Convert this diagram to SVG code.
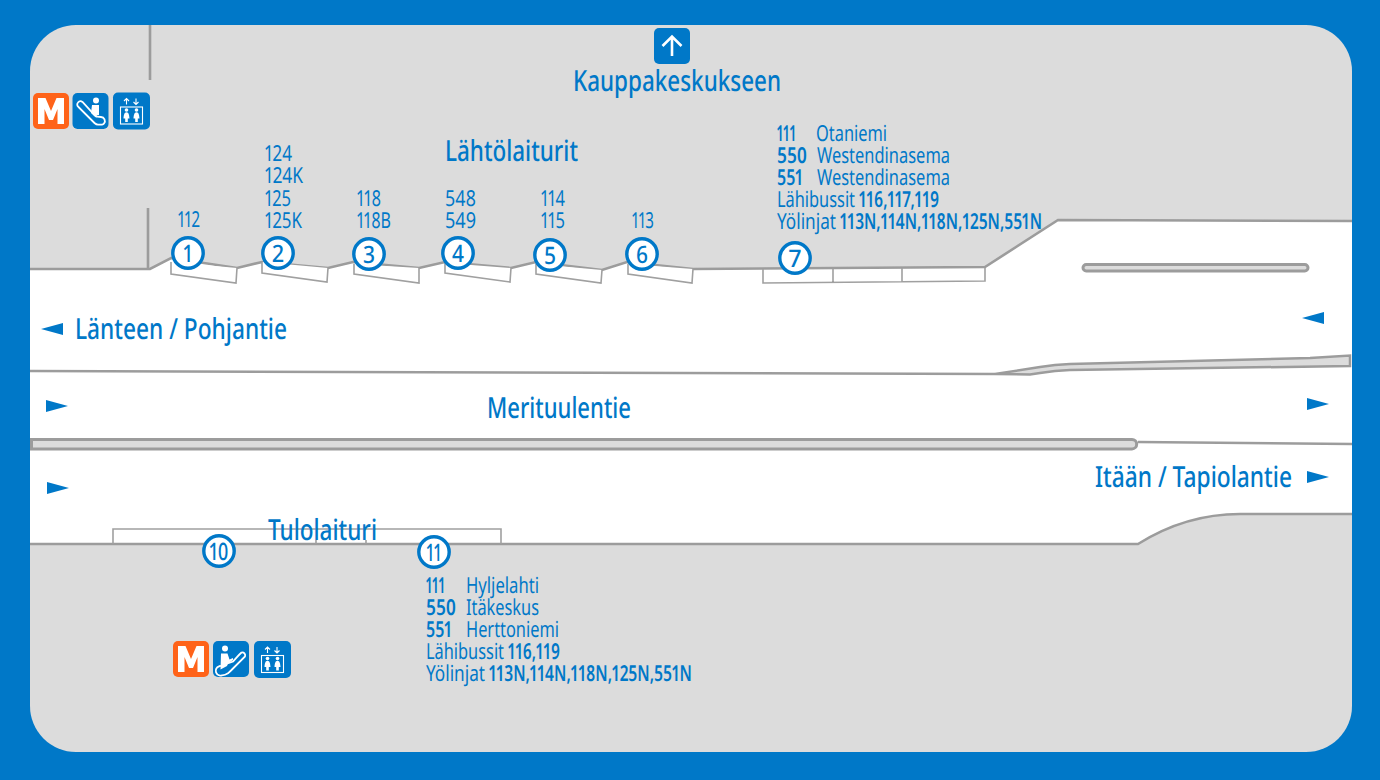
<svg xmlns="http://www.w3.org/2000/svg" width="1380" height="780" viewBox="0 0 1380 780">
  <style>
    text { font-family: "Noto Sans", "Open Sans", sans-serif; fill: #0078c8; text-rendering: geometricPrecision; font-variant-numeric: proportional-nums; }
    .sm { font-size: 22px; font-weight: 400; }
    .smb { font-size: 22px; font-weight: 600; }
    .lg { font-size: 29px; font-weight: 500; }
    .num { font-size: 24px; font-weight: 500; text-anchor: middle; }
    .edge { fill: none; stroke: #9c9c9c; stroke-width: 2.600; }
    .thin { fill: #fff; stroke: #a0a0a0; stroke-width: 1.600; }
    .open { fill: none; stroke: #a0a0a0; stroke-width: 1.600; }
    .isl { fill: #dcdcdc; stroke: #9c9c9c; stroke-width: 3; }
    .wedge { fill: #dcdcdc; stroke: #9c9c9c; stroke-width: 2.500; }
    .stop { fill: #fff; stroke: #0078c8; stroke-width: 3.400; }
    .arr { fill: #0078c8; }
    .ic { fill: #0078c8; }
    .wl { fill: none; stroke: #fff; stroke-width: 1.800; }
    .wt { fill: none; stroke: #fff; stroke-width: 1.100; }
    .wf { fill: #fff; }
  </style>
  <defs>
    <g id="metro">
      <rect width="36" height="36" rx="5" fill="#ff6319"/>
      <path class="wf" d="M5 31V5h7.500l5.500 13 5.500-13H31v26h-6.500V16l-4.500 11h-4l-4.500-11v15z"/>
    </g>
    <g id="lift">
      <rect width="37" height="37" rx="5" class="ic"/>
      <rect x="7.500" y="14.500" width="22" height="17" class="wt"/>
      <circle class="wf" cx="13.500" cy="17.500" r="1.800"/><path class="wf" d="M13.500 19.800c2.200 0 2.800 3 3 6.200h-1.700v3.500h-2.600V26h-1.700c.2-3.200.8-6.200 3-6.200z"/>
      <circle class="wf" cx="23.500" cy="17.500" r="1.800"/><path class="wf" d="M23.500 19.800c2.200 0 2.800 3 3 6.200h-1.700v3.500h-2.600V26h-1.700c.2-3.200.8-6.200 3-6.200z"/>
      <path class="wt" d="M13.500 12V6M11 8.500l2.500-2.500 2.500 2.500M23 6v6M20.500 9.500l2.500 2.500 2.500-2.500"/>
    </g>
  </defs>

  <rect width="1380" height="780" fill="#0078c8"/>
  <rect x="30" y="25" width="1322" height="727" rx="46" fill="#dcdcdc"/>

  <!-- carriageway surface -->
  <path fill="#fff" d="M30 269H150L171 258L237 268L262 262L328 268L353 262L419 268L445 262L511 268L536 262L602 270L627 262L693 269L985 267L1058 220L1352 221V514H1240C1205 514 1170 524 1138 544H30Z"/>

  <g id="connectors">
    <path class="edge" d="M30 269H150L171 258L237 268L262 262L328 268L353 262L419 268L445 262L511 268L536 262L602 270L627 262L693 269L985 267L1058 220L1352 221"/>
    <path class="edge" d="M30 544H1138C1170 524 1205 514 1240 514H1352"/>
    <path class="edge" d="M150 25V80M148 208V269"/>
    <path class="edge" d="M30 371L995 374"/>
    <path class="edge" d="M1138 442L1352 444"/>
    <path class="wedge" d="M995 374L1040 367Q1055 364.500 1070 364L1310 358L1350 355.500V366L1070 370Q1055 370.500 1040 373L1030 374.500Z"/>
    <rect class="isl" x="1083" y="264.500" width="225" height="6.500" rx="3.200"/>
    <path class="isl" d="M31.500 439.500H1132a4.700 4.700 0 0 1 0 9.400H31.500Z"/>
    <!-- boarding platforms -->
    <path class="thin" d="M171 262V274L236 283L237 268"/>
    <path class="thin" d="M262 262V273L327 282L328 268"/>
    <path class="thin" d="M354 264V274L419 283L419 268"/>
    <path class="thin" d="M445 263V273L510 282L511 268"/>
    <path class="thin" d="M536 264V274L601 283L602 270"/>
    <path class="thin" d="M628 264V274L692 283L693 269"/>
    <path class="open" d="M763 269V283L985 281V268M833 269V282M902 268V282"/>
    <path class="open" d="M113 544V529L501 529V544M316 540V544M366 540V544"/>
    <!-- traffic direction arrows -->
    <path class="arr" d="M41 329L63 323V335Z"/>
    <path class="arr" d="M1302 318L1324 312V324Z"/>
    <path class="arr" d="M46 400L68 406L46 412Z"/>
    <path class="arr" d="M1307 398L1329 404L1307 410Z"/>
    <path class="arr" d="M47 482L69 488L47 494Z"/>
    <path class="arr" d="M1307 471L1329 477L1307 483Z"/>
  </g>

  <g id="stop-1"><circle class="stop" cx="188" cy="253" r="15.200"/><text class="num" x="188" y="262" textLength="9" lengthAdjust="spacingAndGlyphs">1</text></g>
  <g id="stop-2"><circle class="stop" cx="278" cy="253" r="15.200"/><text class="num" x="278" y="262" textLength="12" lengthAdjust="spacingAndGlyphs">2</text></g>
  <g id="stop-3"><circle class="stop" cx="369" cy="254" r="15.200"/><text class="num" x="369" y="263" textLength="12" lengthAdjust="spacingAndGlyphs">3</text></g>
  <g id="stop-4"><circle class="stop" cx="458" cy="253" r="15.200"/><text class="num" x="458" y="262" textLength="12" lengthAdjust="spacingAndGlyphs">4</text></g>
  <g id="stop-5"><circle class="stop" cx="550" cy="255" r="15.200"/><text class="num" x="550" y="264" textLength="12" lengthAdjust="spacingAndGlyphs">5</text></g>
  <g id="stop-6"><circle class="stop" cx="642" cy="254" r="15.200"/><text class="num" x="642" y="263" textLength="12" lengthAdjust="spacingAndGlyphs">6</text></g>
  <g id="stop-7"><circle class="stop" cx="795" cy="258" r="15.200"/><text class="num" x="795" y="267" textLength="12" lengthAdjust="spacingAndGlyphs">7</text></g>
  <g id="stop-10"><circle class="stop" cx="219" cy="551" r="15.200"/><text class="num" x="219" y="560" textLength="19" lengthAdjust="spacingAndGlyphs">10</text></g>
  <g id="stop-11"><circle class="stop" cx="434" cy="552" r="15.200"/><text class="num" x="434" y="561" textLength="15" lengthAdjust="spacingAndGlyphs">11</text></g>

  <g id="kauppakeskus">
    <rect x="654" y="28" width="36" height="36" rx="5" class="ic"/>
    <path d="M672 56V37M662.500 46L672 36.500L681.500 46" fill="none" stroke="#fff" stroke-width="2.600"/>
    <text class="lg" x="573" y="90.500" textLength="208" lengthAdjust="spacingAndGlyphs">Kauppakeskukseen</text>
  </g>

  <g id="metro-west">
    <use href="#metro" x="33" y="93"/>
    <rect x="72.500" y="93" width="36" height="36" rx="5" class="ic"/>
    <circle class="wf" cx="96" cy="100.500" r="3"/>
    <path class="wf" d="M92 105h7v10h-2.500v3L91 113z"/>
    <path class="wl" d="M78 102.500a3.300 3.300 0 0 1 4.500-.5L95 115.500c2 1.500 4 1.500 6 1.500a4 4 0 0 1 3 6.500 3 3 0 0 1-2 1.200h-4c-1.500 0-2.500-.8-3.500-1.700L78.500 107a3 3 0 0 1-.5-4.500z"/>
    <use href="#lift" x="113" y="92.500"/>
  </g>

  <g id="metro-east">
    <use href="#metro" x="173" y="641"/>
    <rect x="213" y="641" width="36" height="36" rx="5" class="ic"/>
    <circle class="wf" cx="225" cy="648.500" r="3"/>
    <path class="wf" d="M221 653.500h6.500l2 6 3.500-1.500v2l-5 3.500-1 2.500-6.500 3.500z"/>
    <path class="wl" d="M219 666.500l14-5c3-3 5-6 8.500-9a3 3 0 0 1 3.500 4l-14 14-3 2.800c-2 1.400-4 2-6 2a4.500 4.500 0 0 1-3-9z"/>
    <use href="#lift" x="254" y="641"/>
  </g>

  <g id="departures">
    <text class="lg" x="445" y="161" textLength="133" lengthAdjust="spacingAndGlyphs">Lähtölaiturit</text>
    <text class="sm" x="178" y="227" textLength="22" lengthAdjust="spacingAndGlyphs">112</text>
    <text class="sm" x="265" y="161" textLength="27" lengthAdjust="spacingAndGlyphs">124</text>
    <text class="sm" x="265" y="183" textLength="38" lengthAdjust="spacingAndGlyphs">124K</text>
    <text class="sm" x="265" y="206" textLength="26" lengthAdjust="spacingAndGlyphs">125</text>
    <text class="sm" x="265" y="228" textLength="37" lengthAdjust="spacingAndGlyphs">125K</text>
    <text class="sm" x="357" y="206" textLength="24" lengthAdjust="spacingAndGlyphs">118</text>
    <text class="sm" x="357" y="228" textLength="34" lengthAdjust="spacingAndGlyphs">118B</text>
    <text class="sm" x="445" y="206" textLength="31" lengthAdjust="spacingAndGlyphs">548</text>
    <text class="sm" x="445" y="228" textLength="31" lengthAdjust="spacingAndGlyphs">549</text>
    <text class="sm" x="541" y="206" textLength="24" lengthAdjust="spacingAndGlyphs">114</text>
    <text class="sm" x="541" y="228" textLength="24" lengthAdjust="spacingAndGlyphs">115</text>
    <text class="sm" x="632" y="228" textLength="22" lengthAdjust="spacingAndGlyphs">113</text>
  </g>

  <g id="departures-7">
    <text class="smb" x="777" y="141" textLength="19" lengthAdjust="spacingAndGlyphs">111</text>
    <text class="sm" x="816" y="141" textLength="71" lengthAdjust="spacingAndGlyphs">Otaniemi</text>
    <text class="smb" x="777" y="163" textLength="30" lengthAdjust="spacingAndGlyphs">550</text>
    <text class="sm" x="817" y="163" textLength="133" lengthAdjust="spacingAndGlyphs">Westendinasema</text>
    <text class="smb" x="777" y="185" textLength="26" lengthAdjust="spacingAndGlyphs">551</text>
    <text class="sm" x="817" y="185" textLength="133" lengthAdjust="spacingAndGlyphs">Westendinasema</text>
    <text class="sm" x="777" y="207" textLength="78" lengthAdjust="spacingAndGlyphs">Lähibussit</text>
    <text class="smb" x="859" y="207" textLength="80" lengthAdjust="spacingAndGlyphs">116,117,119</text>
    <text class="sm" x="777" y="229" textLength="59" lengthAdjust="spacingAndGlyphs">Yölinjat</text>
    <text class="smb" x="840" y="229" textLength="202" lengthAdjust="spacingAndGlyphs">113N,114N,118N,125N,551N</text>
  </g>

  <g id="arrivals-11">
    <text class="smb" x="426" y="592.500" textLength="19" lengthAdjust="spacingAndGlyphs">111</text>
    <text class="sm" x="466" y="592.500" textLength="73" lengthAdjust="spacingAndGlyphs">Hyljelahti</text>
    <text class="smb" x="426" y="614.500" textLength="30" lengthAdjust="spacingAndGlyphs">550</text>
    <text class="sm" x="466" y="614.500" textLength="73" lengthAdjust="spacingAndGlyphs">Itäkeskus</text>
    <text class="smb" x="426" y="636.500" textLength="26" lengthAdjust="spacingAndGlyphs">551</text>
    <text class="sm" x="466" y="636.500" textLength="93" lengthAdjust="spacingAndGlyphs">Herttoniemi</text>
    <text class="sm" x="426" y="658.500" textLength="78" lengthAdjust="spacingAndGlyphs">Lähibussit</text>
    <text class="smb" x="508" y="658.500" textLength="52" lengthAdjust="spacingAndGlyphs">116,119</text>
    <text class="sm" x="426" y="680.500" textLength="59" lengthAdjust="spacingAndGlyphs">Yölinjat</text>
    <text class="smb" x="489" y="680.500" textLength="203" lengthAdjust="spacingAndGlyphs">113N,114N,118N,125N,551N</text>
  </g>

  <g id="road-names">
    <text class="lg" x="75" y="339" textLength="212" lengthAdjust="spacingAndGlyphs">Länteen / Pohjantie</text>
    <text class="lg" x="487" y="418" textLength="144" lengthAdjust="spacingAndGlyphs">Merituulentie</text>
    <text class="lg" x="1095" y="487" textLength="197" lengthAdjust="spacingAndGlyphs">Itään / Tapiolantie</text>
    <text class="lg" x="268" y="540" textLength="109" lengthAdjust="spacingAndGlyphs">Tulolaituri</text>
  </g>
</svg>
